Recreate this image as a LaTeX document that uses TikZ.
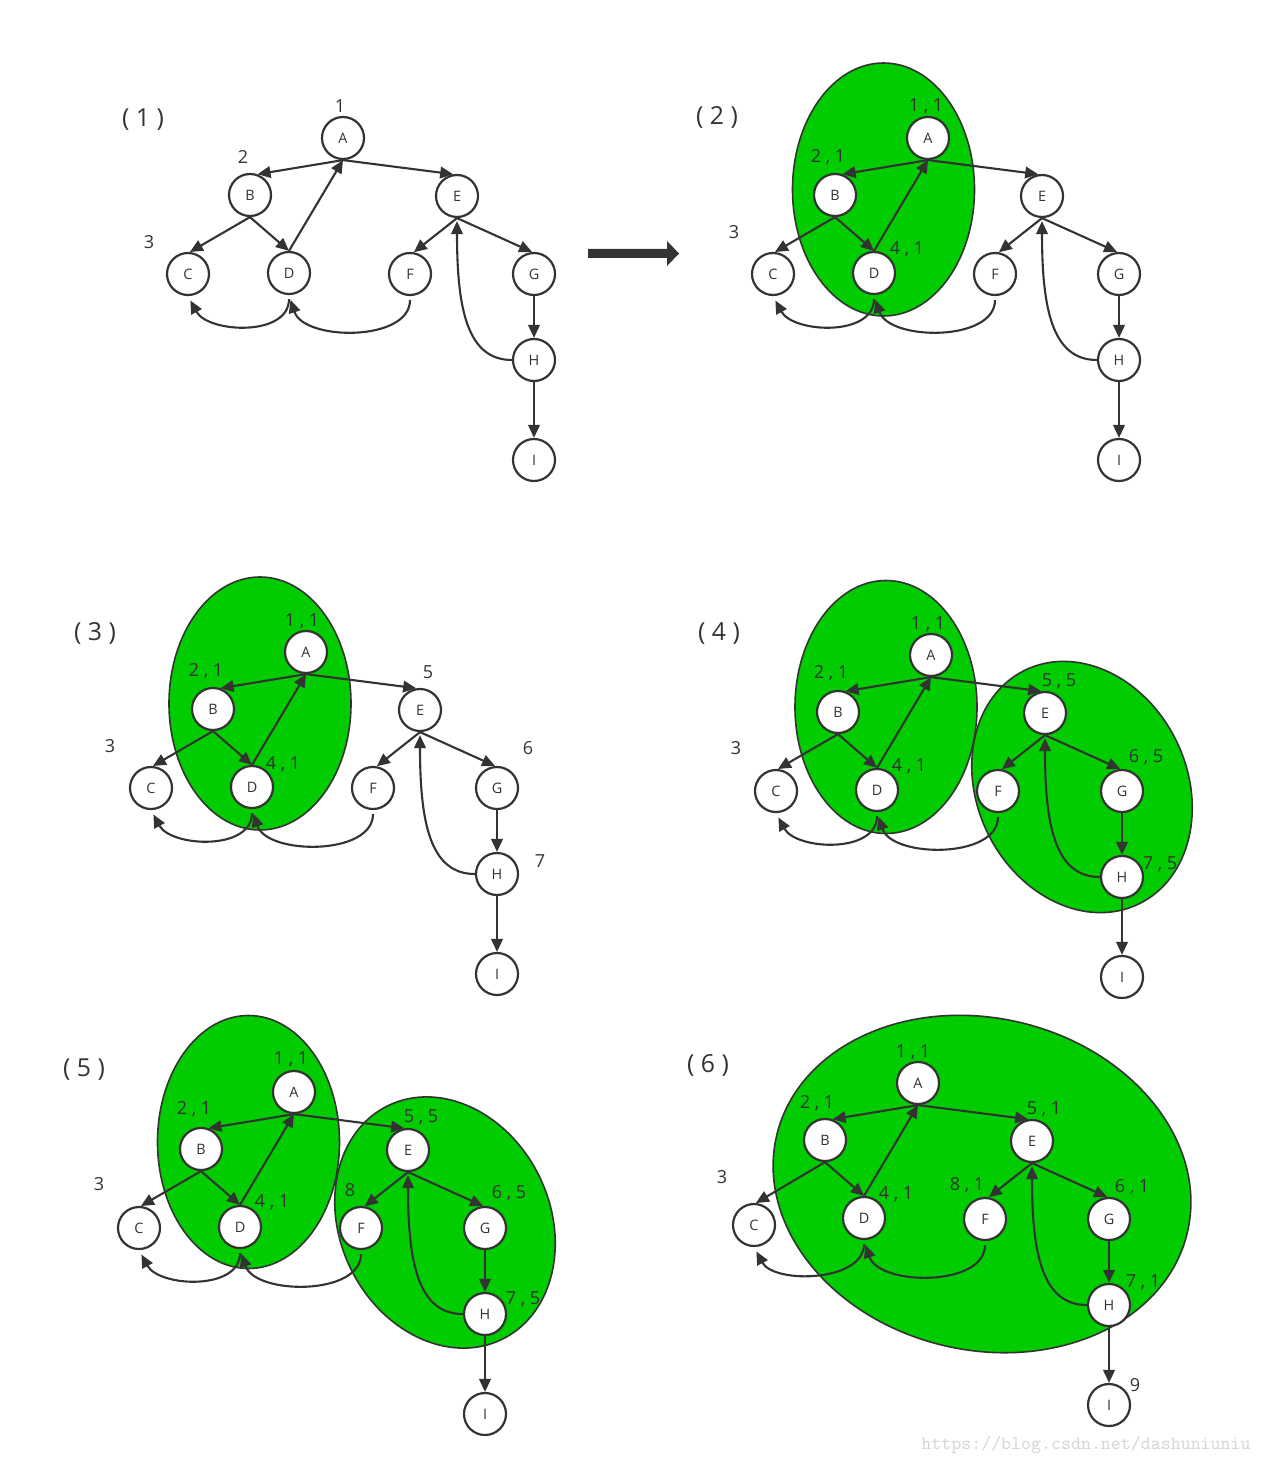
\documentclass[tikz,border=0pt]{standalone}
\usepackage{fontspec}
\setmainfont{Open Sans}
\usetikzlibrary{arrows.meta}
\definecolor{dark}{HTML}{333333}
\definecolor{sccgreen}{HTML}{00CC00}
\definecolor{wmgray}{HTML}{D6D6D6}
\tikzset{
  vtx/.style={circle, draw=dark, line width=1.1pt, fill=white, minimum size=21pt,
    inner sep=0pt, text=dark, font=\fontsize{7.2}{8}\selectfont},
  edge/.style={draw=dark, line width=1.05pt, -{Triangle[length=6.5pt,width=5.8pt]}},
  lbl/.style={text=dark, inner sep=0pt, text depth=0pt, font=\fontsize{9}{10}\selectfont},
  ttl/.style={text=dark, inner sep=0pt, font=\fontsize{12.4}{14}\selectfont},
  blob/.style={fill=sccgreen, draw=dark, line width=0.8pt},
}
% #1 prefix, #2 dx, #3 dy, #4 C dx, #5 C dy
\newcommand\drawgraph[5]{%
\begin{scope}[shift={(#2,#3)}]
  \node[vtx] (#1A) at (343,138) {A};
  \node[vtx] (#1B) at (250,195) {B};
  \node[vtx] (#1E) at (457,196) {E};
  \node[vtx] (#1C) at ({188+#4},{274+#5}) {C};
  \node[vtx] (#1D) at (289,273) {D};
  \node[vtx] (#1F) at (410,274) {F};
  \node[vtx] (#1G) at (534,274) {G};
  \node[vtx] (#1H) at (534,360) {H};
  \node[vtx] (#1I) at (534,460) {I};
  \draw[edge] (#1A.south) -- (#1B.70);
  \draw[edge] (#1A.south) -- (#1E.100);
  \draw[edge] (#1B.south) -- (#1C.85);
  \draw[edge] (#1B.south) -- (#1D.north);
  \draw[edge] (#1D.north) -- (#1A.south);
  \draw[edge] (#1E.south) -- (#1F.80);
  \draw[edge] (#1E.south) -- (#1G.95);
  \draw[edge] (#1G.south) -- (#1H.north);
  \draw[edge] (#1H.south) -- (#1I.north);
  \draw[edge, shorten >=1.5pt] (#1H.west) .. controls +(-45,0) and +(0,90) .. (#1E.south);
  \draw[edge, shorten <=2pt, shorten >=2.5pt] (#1D.south) .. controls +(0,42) and +(20,37) .. (#1C.south);
  \draw[edge, shorten <=2pt, shorten >=2.5pt] (#1F.south) .. controls +(0,46) and +(15,46) .. (#1D.south);
\end{scope}}

\begin{document}
\begin{tikzpicture}[x=0.5pt, y=-0.5pt]
\useasboundingbox[fill=white] (0,0) rectangle (1262,1465);

% ---------- green regions ----------
\draw[blob] (883.5,189.5) ellipse [x radius=91, y radius=126.5];
\draw[blob] (260,703.5) ellipse [x radius=91, y radius=126.5];
\draw[blob] (886,707) ellipse [x radius=91, y radius=126.5];
\draw[blob, rotate around={26:(1082,787)}] (1082,787) ellipse [x radius=105, y radius=130];
\draw[blob] (248.5,1142) ellipse [x radius=91, y radius=126.5];
\draw[blob, rotate around={26:(445,1222.5)}] (445,1222.5) ellipse [x radius=105, y radius=130];
\draw[blob, rotate around={-13.3:(982,1184)}] (982,1184) ellipse [x radius=211, y radius=166];

% ---------- graphs ----------
\drawgraph{p}{0}{0}{0}{0}
\drawgraph{q}{585}{0}{0}{0}
\drawgraph{r}{-37}{514}{0}{0}
\drawgraph{s}{588}{517}{0}{0}
\drawgraph{t}{-49}{954}{0}{0}
\drawgraph{u}{575}{945}{-9}{6}

% ---------- thick arrow between (1) and (2) ----------
\fill[dark] (588,249) -- (667,249) -- (667,241) -- (679,253.5) -- (667,266) -- (667,258) -- (588,258) -- cycle;

% ---------- panel (1) ----------
\node[ttl] (t1) at (143,120) {( 1 )};
\node[lbl] (p1) at (340,106) {1};
\node[lbl] (p2) at (243,157) {2};
\node[lbl] (p3) at (149,242) {3};

% ---------- panel (2) ----------
\node[ttl] (t2) at (717,117) {( 2 )};
\node[lbl] (q1) at (926,105) {1 , 1};
\node[lbl] (q2) at (828,156) {2 , 1};
\node[lbl] (q3) at (734,232) {3};
\node[lbl] (q4) at (907,248) {4 , 1};

% ---------- panel (3) ----------
\node[ttl] (t3) at (95,633) {( 3 )};
\node[lbl] (r1) at (302,620) {1 , 1};
\node[lbl] (r2) at (206,670) {2 , 1};
\node[lbl] (r3) at (110,746) {3};
\node[lbl] (r4) at (283,763) {4 , 1};
\node[lbl] (r5) at (428,672) {5};
\node[lbl] (r6) at (528,748) {6};
\node[lbl] (r7) at (540,861) {7};

% ---------- panel (4) ----------
\node[ttl] (t4) at (719,634) {( 4 )};
\node[lbl] (s1) at (928,623) {1 , 1};
\node[lbl] (s2) at (831,672) {2 , 1};
\node[lbl] (s3) at (736,748) {3};
\node[lbl] (s4) at (909,765) {4 , 1};
\node[lbl] (s5) at (1059,680) {5 , 5};
\node[lbl] (s6) at (1146,756) {6 , 5};
\node[lbl] (s7) at (1160,863) {7 , 5};

% ---------- panel (5) ----------
\node[ttl] (t5) at (84,1070) {( 5 )};
\node[lbl] (t1a) at (291,1058) {1 , 1};
\node[lbl] (t2a) at (194,1108) {2 , 1};
\node[lbl] (t3a) at (99,1184) {3};
\node[lbl] (t4a) at (272,1201) {4 , 1};
\node[lbl] (t5a) at (421,1116) {5 , 5};
\node[lbl] (t8a) at (350,1190) {8};
\node[lbl] (t6a) at (509,1192) {6 , 5};
\node[lbl] (t7a) at (523,1298) {7 , 5};

% ---------- panel (6) ----------
\node[ttl] (t6) at (708,1065) {( 6 )};
\node[lbl] (u1) at (913,1051) {1 , 1};
\node[lbl] (u2) at (817,1102) {2 , 1};
\node[lbl] (u3) at (722,1177) {3};
\node[lbl] (u4) at (896,1193) {4 , 1};
\node[lbl] (u5) at (1044,1108) {5 , 1};
\node[lbl] (u8) at (967,1184) {8 , 1};
\node[lbl] (u6) at (1132,1186) {6 , 1};
\node[lbl] (u7) at (1143,1281) {7 , 1};
\node[lbl] (u9) at (1135,1385) {9};

% ---------- watermark ----------
\node[text=wmgray, inner sep=0pt, font=\fontsize{9.5}{10}\ttfamily] (wm) at (1086,1445) {https://blog.csdn.net/dashuniuniu};
\end{tikzpicture}
\end{document}
